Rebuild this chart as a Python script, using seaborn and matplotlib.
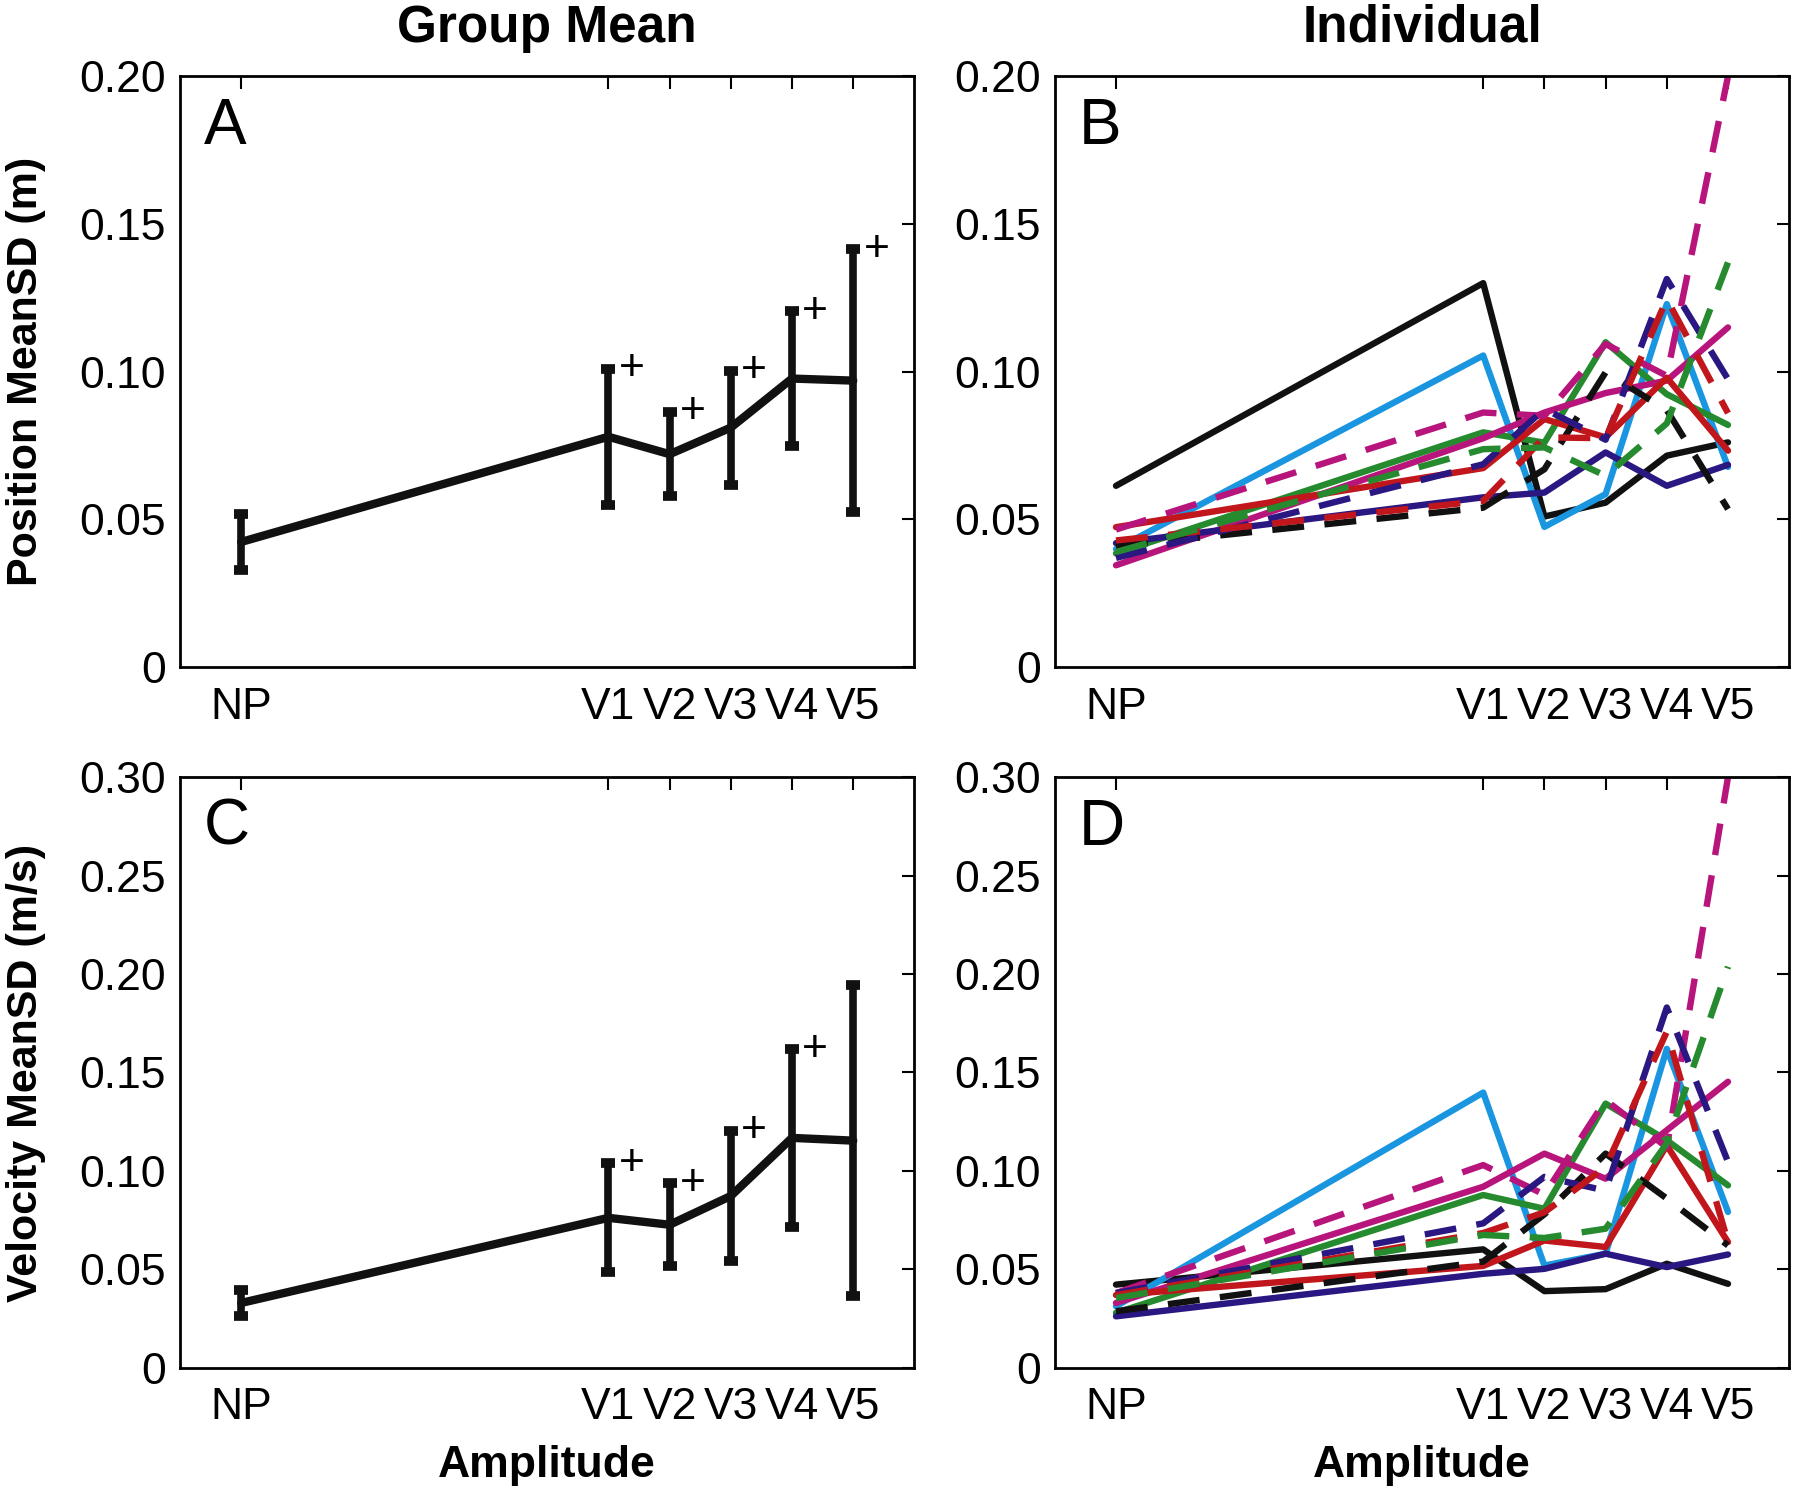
import numpy as np
import pandas as pd
import seaborn as sns
import matplotlib
matplotlib.use("Agg")
import matplotlib.pyplot as plt
from matplotlib.ticker import FuncFormatter

# amplitude levels and their x positions
levels = ["NP", "V1", "V2", "V3", "V4", "V5"]
level_x = [0, 6, 7, 8, 9, 10]

# group means +- SD
pos_mean = [0.0424, 0.0780, 0.0721, 0.0811, 0.0977, 0.0970]
pos_sd = [0.0095, 0.0230, 0.0143, 0.0193, 0.0227, 0.0445]
vel_mean = [0.0330, 0.0762, 0.0727, 0.0873, 0.1168, 0.1154]
vel_sd = [0.0065, 0.0277, 0.0210, 0.0330, 0.0450, 0.0790]
pos_sig = [False, True, True, True, True, True]
vel_sig = [False, True, True, True, True, False]

# individual subjects
subjects = ["S1", "S2", "S3", "S4", "S5", "S6", "S7", "S8", "S9", "S10", "S11"]
subj_color = ["#111111", "#1a96e0", "#268a2e", "#b8157c", "#c0161c", "#2b1782",
              "#b8157c", "#111111", "#2b1782", "#c0161c", "#268a2e"]
subj_dashed = [False, False, False, False, False, False, True, True, True, True, True]

pos_indiv = [
    [0.0614, 0.1300, 0.0510, 0.0557, 0.0716, 0.0761],
    [0.0400, 0.1055, 0.0475, 0.0586, 0.1229, 0.0678],
    [0.0385, 0.0795, 0.0760, 0.1100, 0.0924, 0.0820],
    [0.0345, 0.0775, 0.0862, 0.0928, 0.0970, 0.1150],
    [0.0474, 0.0674, 0.0840, 0.0778, 0.0980, 0.0733],
    [0.0420, 0.0575, 0.0591, 0.0727, 0.0614, 0.0685],
    [0.0466, 0.0862, 0.0851, 0.1094, 0.0986, 0.2000],
    [0.0409, 0.0540, 0.0670, 0.0998, 0.0870, 0.0535],
    [0.0370, 0.0687, 0.0874, 0.0770, 0.1314, 0.0975],
    [0.0429, 0.0563, 0.0778, 0.0775, 0.1246, 0.0860],
    [0.0390, 0.0738, 0.0744, 0.0648, 0.0825, 0.1370],
]
vel_indiv = [
    [0.0423, 0.0602, 0.0390, 0.0400, 0.0529, 0.0427],
    [0.0313, 0.1398, 0.0520, 0.0580, 0.1620, 0.0792],
    [0.0280, 0.0878, 0.0808, 0.1342, 0.1156, 0.0927],
    [0.0330, 0.0920, 0.1088, 0.0961, 0.1207, 0.1453],
    [0.0370, 0.0518, 0.0647, 0.0614, 0.1130, 0.0639],
    [0.0262, 0.0478, 0.0503, 0.0580, 0.0512, 0.0576],
    [0.0380, 0.1030, 0.0880, 0.1360, 0.1120, 0.3000],
    [0.0288, 0.0540, 0.0780, 0.1088, 0.0860, 0.0622],
    [0.0380, 0.0734, 0.0970, 0.0900, 0.1830, 0.1046],
    [0.0370, 0.0685, 0.0790, 0.1020, 0.1707, 0.0639],
    [0.0355, 0.0675, 0.0660, 0.0707, 0.1140, 0.2037],
]

sns.set_style("white")
plt.rcParams["font.family"] = ["Liberation Sans", "DejaVu Sans"]
plt.rcParams["text.color"] = "black"
plt.rcParams["xtick.color"] = "black"
plt.rcParams["ytick.color"] = "black"
plt.rcParams["axes.labelcolor"] = "black"

fig = plt.figure(figsize=(18, 14.96), dpi=100)
axA = fig.add_axes([0.100, 0.554, 0.408, 0.395])
axB = fig.add_axes([0.586, 0.554, 0.408, 0.395])
axC = fig.add_axes([0.100, 0.0856, 0.408, 0.395])
axD = fig.add_axes([0.586, 0.0856, 0.408, 0.395])

fmt = FuncFormatter(lambda v, p: "0" if abs(v) < 1e-9 else f"{v:.2f}")


def style_axes(ax, ymax, letter):
    ax.set_xlim(-1, 11)
    ax.set_ylim(0, ymax)
    ax.set_xticks(level_x)
    ax.set_xticklabels(levels)
    ax.set_yticks(np.arange(0, ymax + 1e-9, 0.05))
    ax.yaxis.set_major_formatter(fmt)
    ax.tick_params(direction="in", top=True, right=True, length=9, width=1.5,
                   labelsize=32, pad=10)
    ax.tick_params(axis="x", pad=14)
    for s in ax.spines.values():
        s.set_linewidth(2)
        s.set_color("black")
    ax.set_xlabel("")
    ax.set_ylabel("")
    ax.text(0.033, 0.965, letter, transform=ax.transAxes, fontsize=46,
            va="top", ha="left")


def group_panel(ax, mean, sd, sig, ymax, letter):
    df = pd.DataFrame({"x": level_x, "y": mean})
    sns.lineplot(data=df, x="x", y="y", ax=ax, color="#111111", linewidth=6,
                 sort=False)
    ax.errorbar(level_x, mean, yerr=sd, fmt="none", ecolor="#111111",
                elinewidth=5.5, capsize=5, capthick=7)
    for xv, m, s, g in zip(level_x, mean, sd, sig):
        if g:
            ax.text(xv + 0.38, m + s, "+", fontsize=32, ha="center", va="center")
    style_axes(ax, ymax, letter)


def indiv_panel(ax, data, ymax, letter):
    rows = []
    for name, vals in zip(subjects, data):
        for xv, v in zip(level_x, vals):
            rows.append({"subject": name, "x": xv, "y": v})
    df = pd.DataFrame(rows)
    palette = dict(zip(subjects, subj_color))
    dashes = {n: ((5, 3.2) if d else "") for n, d in zip(subjects, subj_dashed)}
    sns.lineplot(data=df, x="x", y="y", hue="subject", style="subject",
                 palette=palette, dashes=dashes, linewidth=4.6, ax=ax,
                 legend=False, estimator=None, sort=False)
    for ln in ax.lines:
        ln.set_linewidth(4.6)
    style_axes(ax, ymax, letter)


group_panel(axA, pos_mean, pos_sd, pos_sig, 0.2, "A")
indiv_panel(axB, pos_indiv, 0.2, "B")
group_panel(axC, vel_mean, vel_sd, vel_sig, 0.3, "C")
indiv_panel(axD, vel_indiv, 0.3, "D")

axA.set_title("Group Mean", fontsize=37, fontweight="bold", pad=25)
axB.set_title("Individual", fontsize=37, fontweight="bold", pad=25)
axA.set_ylabel("Position MeanSD (m)", fontsize=31, fontweight="bold", labelpad=24)
axC.set_ylabel("Velocity MeanSD (m/s)", fontsize=31, fontweight="bold", labelpad=24)
axC.set_xlabel("Amplitude", fontsize=32, fontweight="bold", labelpad=12)
axD.set_xlabel("Amplitude", fontsize=32, fontweight="bold", labelpad=12)

fig.savefig("out.png", dpi=100)
